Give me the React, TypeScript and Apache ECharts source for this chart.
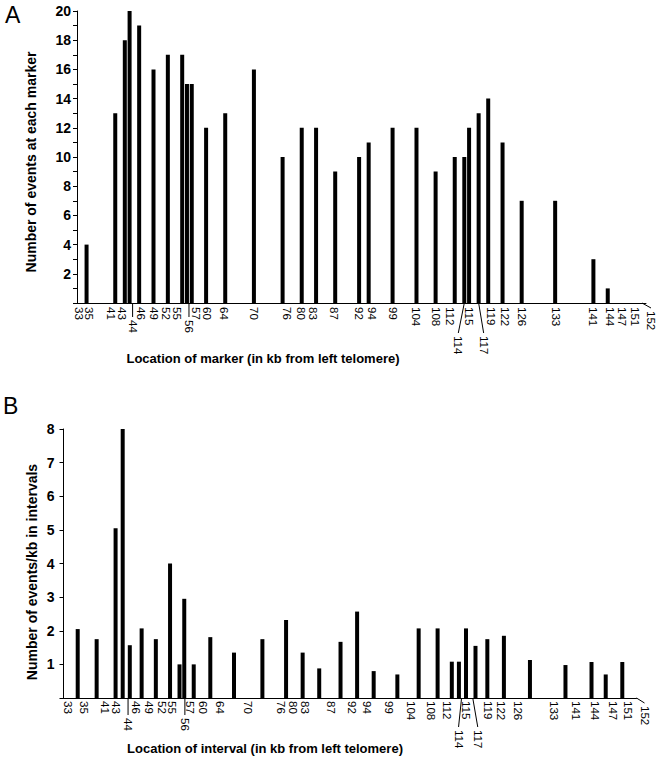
import React, { useEffect, useRef } from "react";
import * as echarts from "echarts";

// Marker locations (kb from left telomere) used as x tick labels in both panels
const markers = [33, 35, 41, 43, 44, 46, 49, 52, 55, 56, 57, 60, 64, 70, 76, 80, 83, 87, 92, 94, 99, 104, 108, 112, 114, 115, 117, 119, 122, 126, 133, 141, 144, 147, 151, 152];

// Panel A: number of events at each marker
const markerPositions = [35, 41, 43, 44, 46, 49, 52, 55, 56, 57, 60, 64, 70, 76, 80, 83, 87, 92, 94, 99, 104, 108, 112, 114, 115, 117, 119, 122, 126, 133, 141, 144];
const eventCounts = [4, 13, 18, 20, 19, 16, 17, 17, 15, 15, 12, 13, 16, 10, 12, 12, 9, 10, 11, 12, 12, 9, 10, 10, 12, 13, 14, 11, 7, 7, 3, 1];

// Panel B: number of events per kb in each interval (interval i = markers[i]..markers[i+1])
const eventsPerKb = [2.05, 1.75, 5.05, 8.0, 1.57, 2.07, 1.75, 4.0, 1.0, 2.95, 1.0, 1.81, 1.35, 1.75, 2.32, 1.35, 0.88, 1.67, 2.57, 0.8, 0.7, 2.07, 2.07, 1.08, 1.08, 2.07, 1.55, 1.75, 1.85, 1.13, 0.98, 1.07, 0.7, 1.07];

const FONT = '"Liberation Sans", Arial, Helvetica, sans-serif';

type Leader = { sx: number; ex: number; len: number };
type LabelCfg = { gap: number; nudge: Record<number, number>; leader: Record<number, Leader> };

// Layout tweaks for crowded tick labels (pixel nudges relative to the scale position)
const labelCfgA: LabelCfg = {
  gap: 4,
  nudge: { 33: 2, 35: 2, 41: -4, 43: -3, 46: 2, 52: -2, 55: -5, 57: 4, 60: 1, 64: -1, 76: 4, 80: -1, 83: -3, 87: -1, 94: 3, 112: -5, 119: 3, 122: 2, 133: 1, 144: 2, 151: -6 },
  leader: {
    44: { sx: 3, ex: 3, len: 14 },
    56: { sx: 2, ex: 2, len: 14 },
    114: { sx: 0, ex: -6, len: 30 },
    117: { sx: 0, ex: 5, len: 30 },
    152: { sx: -4, ex: 5, len: 5 },
  },
};
const labelCfgB: LabelCfg = {
  gap: 3,
  nudge: { 33: -5, 35: 2, 41: -6, 43: -4, 46: 1, 52: -1, 55: -5, 57: 3, 60: 2, 76: 4, 80: -3, 83: -5, 87: 2, 94: 5, 99: 3, 104: 2, 108: 3, 115: 5, 119: 8, 122: 7, 126: 5, 133: 7, 141: -8, 144: -4, 151: -4 },
  leader: {
    44: { sx: 3, ex: 3, len: 17 },
    56: { sx: 3, ex: 3, len: 17 },
    114: { sx: 5, ex: 2, len: 29 },
    117: { sx: 2, ex: 7, len: 29 },
    152: { sx: 0, ex: 8, len: 5 },
  },
};

function labelSeries(gridIdx: number, cfg: LabelCfg) {
  return {
    type: "custom",
    xAxisIndex: gridIdx,
    yAxisIndex: gridIdx,
    clip: false,
    silent: true,
    data: markers.map((v) => [v, 0]),
    renderItem: (params: any, api: any) => {
      const v = api.value(0);
      const p = api.coord([v, 0]);
      const ld = cfg.leader[v];
      const textStyle = {
        text: String(v),
        fontSize: 11.5,
        fontFamily: FONT,
        fill: "#000",
        align: "left",
        verticalAlign: "middle",
      };
      if (!ld) {
        const dx = cfg.nudge[v] || 0;
        return {
          type: "text",
          x: p[0] + dx,
          y: p[1] + cfg.gap,
          rotation: -Math.PI / 2,
          style: textStyle,
        };
      }
      const x1 = p[0] + ld.sx;
      const x2 = p[0] + ld.ex;
      const y2 = p[1] + ld.len;
      return {
        type: "group",
        children: [
          {
            type: "line",
            shape: { x1, y1: p[1], x2, y2 },
            style: { stroke: "#000", lineWidth: 1 },
          },
          {
            type: "text",
            x: x2,
            y: y2 + 3,
            rotation: -Math.PI / 2,
            style: textStyle,
          },
        ],
      };
    },
  };
}

export default function App() {
  const ref = useRef<HTMLDivElement>(null);
  useEffect(() => {
    if (!ref.current) return;
    const chart = echarts.init(ref.current, undefined, { renderer: "svg" });
    const xAxisCommon = {
      type: "value",
      axisLine: { show: true, onZero: false, lineStyle: { color: "#000", width: 1 } },
      axisTick: { show: false },
      splitLine: { show: false },
      axisLabel: { show: false },
    };
    const yAxisCommon = {
      type: "value",
      axisLine: { show: true, lineStyle: { color: "#000", width: 1 } },
      axisTick: { show: true, length: 4, lineStyle: { color: "#000" } },
      splitLine: { show: false },
      axisLabel: {
        fontSize: 14,
        fontWeight: "bold",
        color: "#000",
        fontFamily: FONT,
        formatter: (v: number) => (v === 0 ? "" : String(v)),
      },
    };
    chart.setOption({
      animation: false,
      backgroundColor: "#fff",
      textStyle: { fontFamily: FONT },
      grid: [
        { left: 77, top: 11, width: 569, height: 292 },
        { left: 63.5, top: 429, width: 573, height: 269 },
      ],
      xAxis: [
        { ...xAxisCommon, gridIndex: 0, min: 33, max: 152 },
        { ...xAxisCommon, gridIndex: 1, min: 31, max: 152 },
      ],
      yAxis: [
        {
          ...yAxisCommon,
          gridIndex: 0,
          min: 0,
          max: 20,
          interval: 2,
          minorTick: { show: true, splitNumber: 2, length: 4, lineStyle: { color: "#000" } },
          axisLabel: { ...yAxisCommon.axisLabel, margin: 6 },
        },
        {
          ...yAxisCommon,
          gridIndex: 1,
          min: 0,
          max: 8,
          interval: 1,
          axisLabel: { ...yAxisCommon.axisLabel, margin: 9 },
        },
      ],
      series: [
        {
          type: "bar",
          xAxisIndex: 0,
          yAxisIndex: 0,
          barWidth: 4,
          itemStyle: { color: "#000" },
          data: markerPositions.map((p, i) => [p, eventCounts[i]]),
        },
        {
          type: "bar",
          xAxisIndex: 1,
          yAxisIndex: 1,
          barWidth: 4,
          itemStyle: { color: "#000" },
          data: eventsPerKb.map((r, i) => [(markers[i] + markers[i + 1]) / 2, r]),
        },
        labelSeries(0, labelCfgA),
        labelSeries(1, labelCfgB),
      ],
      graphic: [
        { type: "text", left: 5, top: 3, style: { text: "A", fontSize: 23, fontFamily: FONT, fill: "#000" } },
        { type: "text", left: 3, top: 394, style: { text: "B", fontSize: 23, fontFamily: FONT, fill: "#000" } },
        {
          type: "text",
          x: 31,
          y: 162,
          rotation: Math.PI / 2,
          style: {
            text: "Number of events at each marker",
            fontSize: 14,
            fontWeight: "bold",
            fontFamily: FONT,
            fill: "#000",
            align: "center",
            verticalAlign: "middle",
          },
        },
        {
          type: "text",
          x: 263,
          y: 358,
          style: {
            text: "Location of marker (in kb from left telomere)",
            fontSize: 13,
            fontWeight: "bold",
            fontFamily: FONT,
            fill: "#000",
            align: "center",
            verticalAlign: "middle",
          },
        },
        {
          type: "text",
          x: 32,
          y: 572,
          rotation: Math.PI / 2,
          style: {
            text: "Number of events/kb in intervals",
            fontSize: 14,
            fontWeight: "bold",
            fontFamily: FONT,
            fill: "#000",
            align: "center",
            verticalAlign: "middle",
          },
        },
        {
          type: "text",
          x: 265,
          y: 748,
          style: {
            text: "Location of interval (in kb from left telomere)",
            fontSize: 13,
            fontWeight: "bold",
            fontFamily: FONT,
            fill: "#000",
            align: "center",
            verticalAlign: "middle",
          },
        },
      ],
    });
    return () => chart.dispose();
  }, []);
  return (
    <div
      ref={ref}
      style={{ position: "fixed", left: 0, top: 0, width: 661, height: 761, background: "#fff" }}
    />
  );
}
